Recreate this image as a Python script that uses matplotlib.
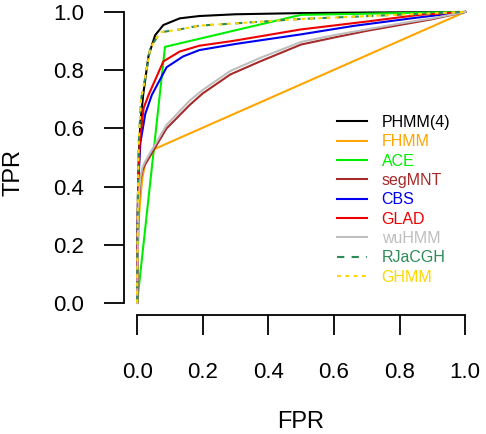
"""
ROC curves (TPR vs FPR) for several copy-number segmentation methods.
"""

import matplotlib
matplotlib.use("Agg")
import matplotlib.pyplot as plt

plt.rcParams['font.family'] = ['Liberation Sans', 'DejaVu Sans']

# Values
methods = ['PHMM(4)', 'FHMM', 'ACE', 'segMNT', 'CBS', 'GLAD', 'wuHMM', 'RJaCGH', 'GHMM']
colors = ['#000000', '#FFA500', '#00EE00', '#A52A2A', '#0000EE', '#EE0000',
          '#BEBEBE', '#2E8B57', '#FFD700']

phmm_fpr = [0, 0.002, 0.005, 0.01, 0.019, 0.035, 0.055, 0.08, 0.13, 0.19, 0.3, 0.5, 0.7, 1.0]
phmm_tpr = [0, 0.3, 0.5, 0.62, 0.72, 0.85, 0.92, 0.955, 0.978, 0.986, 0.992, 0.996, 0.998, 1.0]

fhmm_fpr = [0, 0.003, 0.006, 0.01, 0.016, 0.025, 0.055, 1.0]
fhmm_tpr = [0, 0.2, 0.3, 0.36, 0.43, 0.48, 0.53, 1.0]

ace_fpr = [0, 0.085, 0.5, 1.0]
ace_tpr = [0, 0.88, 0.99, 1.0]

segmnt_fpr = [0, 0.003, 0.006, 0.01, 0.016, 0.024, 0.05, 0.09, 0.16, 0.2, 0.284, 0.375,
              0.5, 0.6, 0.7, 0.8, 0.9, 1.0]
segmnt_tpr = [0, 0.25, 0.36, 0.42, 0.455, 0.475, 0.525, 0.6, 0.68, 0.72, 0.785, 0.83,
              0.888, 0.912, 0.935, 0.955, 0.975, 1.0]

cbs_fpr = [0, 0.003, 0.01, 0.025, 0.045, 0.09, 0.14, 0.19, 0.3, 0.5, 0.66, 0.85, 1.0]
cbs_tpr = [0, 0.4, 0.55, 0.65, 0.715, 0.81, 0.847, 0.869, 0.89, 0.923, 0.952, 0.98, 1.0]

glad_fpr = [0, 0.003, 0.008, 0.02, 0.035, 0.08, 0.13, 0.19, 0.29, 0.5, 0.7, 0.86, 1.0]
glad_tpr = [0, 0.4, 0.55, 0.67, 0.715, 0.83, 0.864, 0.884, 0.90, 0.94, 0.967, 0.99, 1.0]

wuhmm_fpr = [0, 0.003, 0.006, 0.01, 0.016, 0.024, 0.05, 0.09, 0.16, 0.2, 0.284, 0.375,
             0.5, 0.6, 0.7, 0.8, 0.9, 1.0]
wuhmm_tpr = [0, 0.28, 0.38, 0.43, 0.465, 0.485, 0.535, 0.612, 0.695, 0.732, 0.797, 0.842,
             0.897, 0.92, 0.94, 0.96, 0.978, 1.0]

rjacgh_fpr = [0, 0.002, 0.005, 0.012, 0.024, 0.04, 0.07, 0.13, 0.19, 0.29, 0.5, 0.75, 1.0]
rjacgh_tpr = [0, 0.35, 0.55, 0.7, 0.77, 0.875, 0.93, 0.94, 0.953, 0.96, 0.976, 0.988, 1.0]

ghmm_fpr = [0, 0.002, 0.005, 0.012, 0.024, 0.04, 0.07, 0.13, 0.19, 0.29, 0.5, 0.75, 1.0]
ghmm_tpr = [0, 0.35, 0.55, 0.7, 0.77, 0.875, 0.93, 0.94, 0.953, 0.96, 0.976, 0.988, 1.0]

ticks = [0.0, 0.2, 0.4, 0.6, 0.8, 1.0]
tick_labels = ['0.0', '0.2', '0.4', '0.6', '0.8', '1.0']


def main():
    fig = plt.figure(figsize=(4.86, 4.34), dpi=100)
    ax = fig.add_axes([0.2551, 0.2751, 0.7289, 0.7242])

    curves = [(phmm_fpr, phmm_tpr), (fhmm_fpr, fhmm_tpr), (ace_fpr, ace_tpr),
              (segmnt_fpr, segmnt_tpr), (cbs_fpr, cbs_tpr), (glad_fpr, glad_tpr),
              (wuhmm_fpr, wuhmm_tpr), (rjacgh_fpr, rjacgh_tpr), (ghmm_fpr, ghmm_tpr)]
    styles = ['-'] * 7 + [(0, (3.5, 3.5)), (0, (1.8, 2.2))]

    for (fpr, tpr), name, col, ls in zip(curves, methods, colors, styles):
        ax.plot(fpr, tpr, color=col, linewidth=1.5, linestyle=ls, label=name)

    ax.set_xlim(-0.04, 1.04)
    ax.set_ylim(-0.04, 1.04)

    # R-style detached axes
    for side in ['top', 'right']:
        ax.spines[side].set_visible(False)
    ax.spines['left'].set_bounds(0, 1)
    ax.spines['bottom'].set_bounds(0, 1)
    for side in ['left', 'bottom']:
        ax.spines[side].set_linewidth(1.3)

    ax.set_xticks(ticks)
    ax.set_xticklabels(tick_labels)
    ax.set_yticks(ticks)
    ax.set_yticklabels(tick_labels)
    ax.tick_params(axis='both', length=14.5, width=1.3, labelsize=16)
    ax.tick_params(axis='x', pad=19.5)
    ax.tick_params(axis='y', pad=14)

    ax.set_xlabel('FPR', fontsize=17, va='center')
    ax.xaxis.set_label_coords(0.5, -0.342)
    ax.set_ylabel('TPR', fontsize=17, va='center')
    ax.yaxis.set_label_coords(-0.3106, 0.4536)

    leg = ax.legend(loc='upper left', bbox_to_anchor=(337 / 486, 1 - 115 / 434),
                    bbox_transform=fig.transFigure, frameon=False, fontsize=11.5,
                    handlelength=1.9, handletextpad=0.9, labelspacing=0.27,
                    borderpad=0, borderaxespad=0)
    for text, col in zip(leg.get_texts(), colors):
        text.set_color(col)

    fig.savefig('out.png', dpi=100)


if __name__ == "__main__":
    main()
